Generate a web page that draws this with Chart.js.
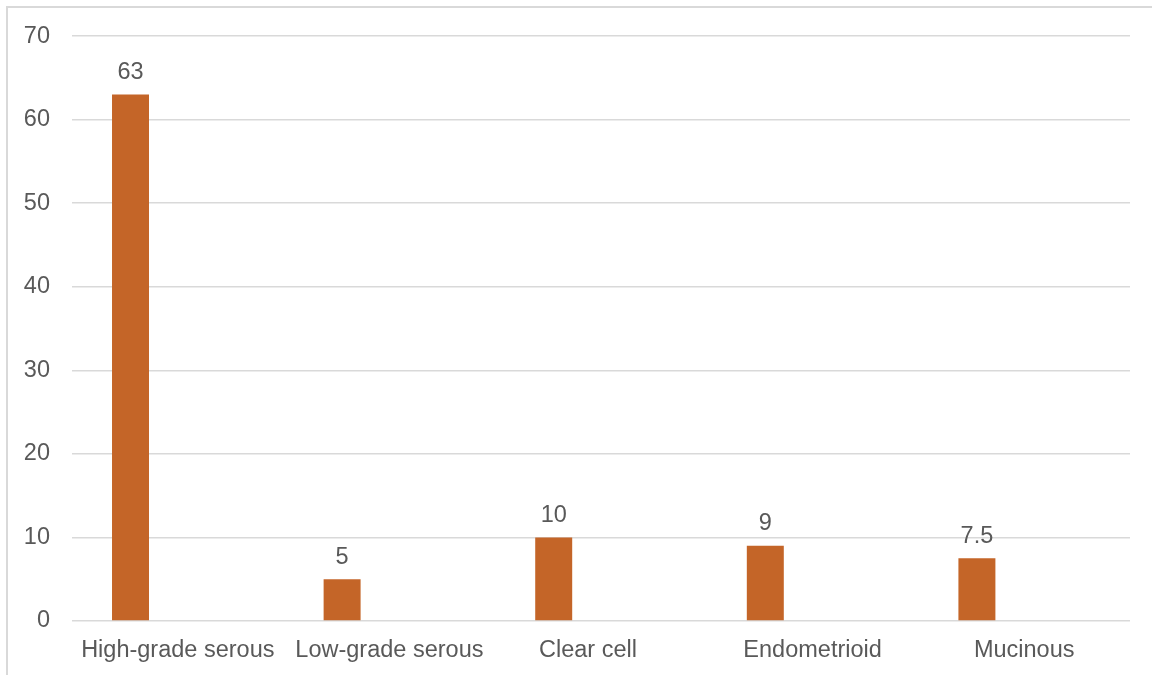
<!DOCTYPE html>
<html>
<head>
<meta charset="utf-8">
<script src="https://cdn.jsdelivr.net/npm/chart.js@4.4.1/dist/chart.umd.min.js"></script>
<style>
  html, body { margin: 0; padding: 0; background: #ffffff; }
  #wrap { position: relative; width: 1152px; height: 675px; }
</style>
</head>
<body>
<div id="wrap"><canvas id="chart" width="1152" height="675"></canvas></div>
<script>
// Ovarian carcinoma histotypes and their share (%)
const categories = ['High-grade serous', 'Low-grade serous', 'Clear cell    ', 'Endometrioid', 'Mucinous'];
const shareValues = [63, 5, 10, 9, 7.5];
const emptySeries = [null, null, null, null, null];
const yTicks = [0, 10, 20, 30, 40, 50, 60, 70];

const TEXT = '#595959';
const GRID = '#d9d9d9';
const BAR = '#c46528';
const FONT = { family: "'Liberation Sans', Arial, sans-serif", size: 23.5 };

// Light frame along the top and left edges of the chart box
const framePlugin = {
  id: 'frame',
  beforeDraw(chart) {
    const ctx = chart.ctx;
    ctx.save();
    ctx.strokeStyle = GRID;
    ctx.lineWidth = 2;
    ctx.beginPath();
    ctx.moveTo(7, chart.height);
    ctx.lineTo(7, 7);
    ctx.lineTo(chart.width, 7);
    ctx.stroke();
    ctx.restore();
  }
};

// Value labels above each bar
const valueLabels = {
  id: 'valueLabels',
  afterDatasetsDraw(chart) {
    const ctx = chart.ctx;
    const meta = chart.getDatasetMeta(0);
    ctx.save();
    ctx.fillStyle = TEXT;
    ctx.font = FONT.size + 'px ' + FONT.family;
    ctx.textAlign = 'center';
    ctx.textBaseline = 'middle';
    meta.data.forEach((bar, i) => {
      const v = chart.data.datasets[0].data[i];
      if (v == null) return;
      ctx.fillText(String(v), bar.x, bar.y - 22);
    });
    ctx.restore();
  }
};

new Chart(document.getElementById('chart'), {
  type: 'bar',
  data: {
    labels: categories,
    datasets: [
      { data: shareValues, backgroundColor: BAR, categoryPercentage: 0.894, barPercentage: 0.391 },
      { data: emptySeries, backgroundColor: BAR, categoryPercentage: 0.894, barPercentage: 0.391 }
    ]
  },
  options: {
    responsive: false,
    animation: false,
    layout: { padding: { top: 36, right: 22, bottom: 0, left: 0 } },
    plugins: {
      legend: { display: false },
      tooltip: { enabled: false }
    },
    scales: {
      x: {
        grid: { display: false, drawTicks: false },
        border: { display: false },
        ticks: { color: TEXT, font: FONT, padding: 15, maxRotation: 0, autoSkip: false },
        afterFit(scale) { scale.height = 54; }
      },
      y: {
        min: 0,
        max: 70,
        afterBuildTicks(scale) { scale.ticks = yTicks.map(v => ({ value: v })); },
        grid: { color: GRID, lineWidth: 1.5, drawTicks: false },
        border: { display: false },
        ticks: { color: TEXT, font: FONT, padding: 22 },
        afterFit(scale) { scale.width = 72; }
      }
    }
  },
  plugins: [framePlugin, valueLabels]
});
</script>
</body>
</html>
